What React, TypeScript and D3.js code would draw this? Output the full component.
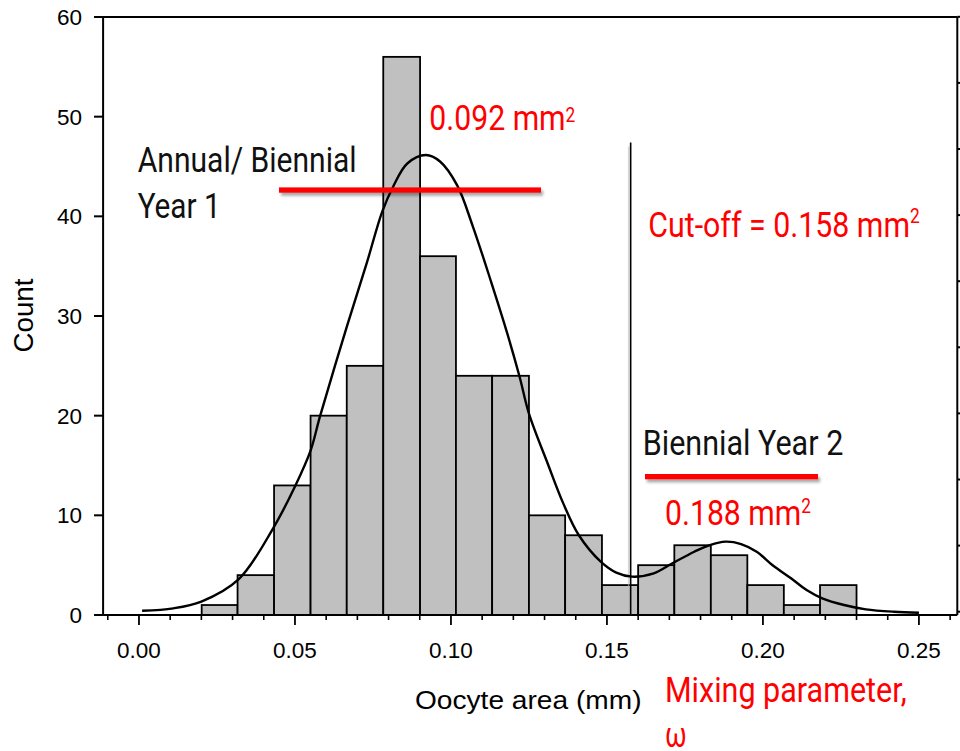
import React from "react";
import * as d3 from "d3";

// ---------- data ----------
const binEdges = [0.0201, 0.0316, 0.0433, 0.055, 0.0666, 0.0783, 0.0901, 0.1016, 0.1132, 0.125, 0.1366, 0.1484, 0.16, 0.1716, 0.1833, 0.195, 0.2067, 0.2183, 0.23];
const binCounts = [1, 4, 13, 20, 25, 56, 36, 24, 24, 10, 8, 3, 5, 7, 6, 3, 1, 3];

const curveX = [0.001, 0.011, 0.02, 0.032, 0.043, 0.05, 0.055, 0.058, 0.0666, 0.073, 0.078, 0.0815, 0.086, 0.092, 0.0965, 0.102, 0.107, 0.113, 0.118, 0.122, 0.125, 0.131, 0.136, 0.141, 0.148, 0.153, 0.158, 0.165, 0.171, 0.178, 0.183, 0.188, 0.193, 0.198, 0.203, 0.209, 0.214, 0.219, 0.226, 0.233, 0.242, 0.25];
const curveY = [0.43, 0.67, 1.35, 3.6, 8.7, 12.9, 16.5, 19.9, 28.9, 35.3, 40.5, 43.0, 45.3, 46.15, 45.5, 43.1, 39.0, 33.3, 28.3, 23.9, 20.2, 15.2, 11.2, 8.0, 5.35, 4.25, 3.85, 4.18, 5.19, 6.35, 7.02, 7.36, 7.12, 6.35, 5.02, 3.68, 2.5, 1.67, 1.0, 0.57, 0.33, 0.23];

const xMajorTicks = [0, 0.05, 0.1, 0.15, 0.2, 0.25];
const xMinorTicks = [-0.01, 0.01, 0.02, 0.03, 0.04, 0.06, 0.07, 0.08, 0.09, 0.11, 0.12, 0.13, 0.14, 0.16, 0.17, 0.18, 0.19, 0.21, 0.22, 0.23, 0.24, 0.26];
const yTicks = [0, 10, 20, 30, 40, 50, 60];
const rightTicks = [0, 1, 2, 3, 4, 5, 6, 7, 8, 9];
const cutoff = 0.1576;
const cutoffTop = 47.4;

const xDomain = [-0.0115, 0.2623];
const yDomain = [0, 60];

const W = 960;
const H = 751;

export default function App() {
  const x = d3.scaleLinear().domain(xDomain).range([103.1, 957.3]);
  const y = d3.scaleLinear().domain(yDomain).range([615, 17]);
  const yr = d3.scaleLinear().domain([0, 9]).range([611.7, 16.8]);

  const pts: [number, number][] = curveX.map((v, i) => [v, curveY[i]]);
  const line = d3
    .line<[number, number]>()
    .x((d) => x(d[0]))
    .y((d) => y(d[1]))
    .curve(d3.curveCatmullRom.alpha(0.5));

  const x0 = x(xDomain[0]);
  const x1 = x(xDomain[1]);
  const yb = y(0);
  const yt = y(60);

  const sans = "'Liberation Sans', Arial, Helvetica, sans-serif";
  const narrow = "Roboto, 'Liberation Sans Narrow', 'Liberation Sans', sans-serif";
  const nw = 400;
  const red = "#ff0000";
  const dark = "#111";

  return (
    <div style={{ position: "absolute", left: 0, top: 0 }}>
      <svg width={W} height={H} viewBox={`0 0 ${W} ${H}`} style={{ display: "block", background: "#fff" }}>
        <defs>
          <filter id="shadow" filterUnits="userSpaceOnUse" x="0" y="0" width={W} height={H}>
            <feDropShadow dx="2" dy="3" stdDeviation="1.8" floodColor="#000" floodOpacity="0.35" />
          </filter>
        </defs>
        <rect x={0} y={0} width={W} height={H} fill="#fff" />

        {/* bars */}
        {binCounts.map((c, i) => (
          <rect
            key={i}
            x={x(binEdges[i])}
            y={y(c)}
            width={x(binEdges[i + 1]) - x(binEdges[i])}
            height={yb - y(c)}
            fill="#c0c0c0"
            stroke="#000"
            strokeWidth={1.8}
          />
        ))}

        {/* cutoff line with faint shadow */}
        <line x1={x(cutoff) - 2} x2={x(cutoff) - 2} y1={y(cutoffTop) + 4} y2={yb} stroke="#bbb" strokeWidth={1.5} opacity={0.6} />
        <line x1={x(cutoff)} x2={x(cutoff)} y1={y(cutoffTop)} y2={yb} stroke="#000" strokeWidth={1.6} />

        {/* fitted curve */}
        <path d={line(pts) || ""} fill="none" stroke="#000" strokeWidth={2.4} />

        {/* frame */}
        <line x1={94} x2={x1} y1={yt} y2={yt} stroke="#000" strokeWidth={2} />
        <line x1={x0} x2={x0} y1={yt} y2={yb} stroke="#000" strokeWidth={2} />
        <line x1={x0} x2={x1} y1={yb} y2={yb} stroke="#000" strokeWidth={2} />
        <line x1={x1} x2={x1} y1={yt} y2={yb} stroke="#000" strokeWidth={2} />

        {/* y ticks */}
        {yTicks.map((t) => (
          <g key={t}>
            <line x1={94} x2={x0} y1={y(t)} y2={y(t)} stroke="#000" strokeWidth={2} />
            <text x={82} y={y(t)} dy="0.36em" textAnchor="end" fontFamily={sans} fontSize={22.5} fill="#000">
              {t}
            </text>
          </g>
        ))}

        {/* right ticks */}
        {rightTicks.map((t) => (
          <line key={t} x1={x1} x2={x1 + 5} y1={yr(t)} y2={yr(t)} stroke="#000" strokeWidth={2} />
        ))}

        {/* x ticks */}
        {xMinorTicks.map((t) => (
          <line key={"m" + t} x1={x(t)} x2={x(t)} y1={yb} y2={yb + 5} stroke="#000" strokeWidth={1.6} />
        ))}
        {xMajorTicks.map((t) => (
          <g key={t}>
            <line x1={x(t)} x2={x(t)} y1={yb} y2={yb + 10} stroke="#000" strokeWidth={1.8} />
            <text x={x(t)} y={657.5} textAnchor="middle" fontFamily={sans} fontSize={22.5} fill="#000">
              {t.toFixed(2)}
            </text>
          </g>
        ))}

        {/* axis titles */}
        <text x={415} y={709.3} fontFamily={sans} fontSize={25} textLength={226.5} lengthAdjust="spacingAndGlyphs" fill="#000">
          Oocyte area (mm)
        </text>
        <text
          transform="translate(32.5,352.5) rotate(-90)"
          fontFamily={sans}
          fontSize={27}
          textLength={74}
          lengthAdjust="spacingAndGlyphs"
          fill="#000"
        >
          Count
        </text>

        {/* red annotation lines */}
        <g filter="url(#shadow)">
          <rect x={279} y={187.4} width={262} height={5.3} fill={red} />
          <rect x={645} y={474} width={173} height={5.3} fill={red} />
        </g>

        {/* annotation texts */}
        <text x={137.7} y={171.7} fontFamily={narrow} fontWeight={nw} fontSize={35} textLength={219} lengthAdjust="spacingAndGlyphs" fill={dark}>
          Annual/ Biennial
        </text>
        <text x={137.7} y={218.3} fontFamily={narrow} fontWeight={nw} fontSize={35} textLength={83} lengthAdjust="spacingAndGlyphs" fill={dark}>
          Year 1
        </text>

        <text x={429.3} y={130} fontFamily={narrow} fontWeight={nw} fontSize={35} textLength={146} lengthAdjust="spacingAndGlyphs" fill={red}>
          0.092 mm
          <tspan dy={-8.3} fontSize={20}>2</tspan>
        </text>

        <text x={648.3} y={236.7} fontFamily={narrow} fontWeight={nw} fontSize={35} textLength={271.5} lengthAdjust="spacingAndGlyphs" fill={red}>
          Cut-off = 0.158 mm
          <tspan dy={-13.7} fontSize={20}>2</tspan>
        </text>

        <text x={642.7} y={455} fontFamily={narrow} fontWeight={nw} fontSize={35} textLength={200.6} lengthAdjust="spacingAndGlyphs" fill={dark}>
          Biennial Year 2
        </text>

        <text x={665} y={525} fontFamily={narrow} fontWeight={nw} fontSize={35} textLength={146} lengthAdjust="spacingAndGlyphs" fill={red}>
          0.188 mm
          <tspan dy={-12} fontSize={20}>2</tspan>
        </text>

        <text x={665} y={701.7} fontFamily={narrow} fontWeight={nw} fontSize={35} textLength={241.7} lengthAdjust="spacingAndGlyphs" fill={red}>
          Mixing parameter,
        </text>
        <text x={665} y={746.7} fontFamily={narrow} fontWeight={nw} fontSize={35} textLength={21.7} lengthAdjust="spacingAndGlyphs" fill={red}>
          ω
        </text>
      </svg>
    </div>
  );
}
